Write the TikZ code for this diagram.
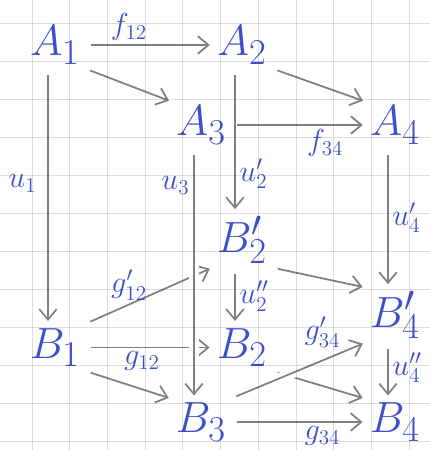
\documentclass[tikz,border=0pt]{standalone}
\usepackage{tikz}
\usetikzlibrary{arrows.meta,positioning}
\definecolor{inkblue}{RGB}{60,80,205}
\definecolor{pencil}{RGB}{128,128,128}
\definecolor{paperline}{RGB}{222,222,222}

\begin{document}
\begin{tikzpicture}[
    obj/.style={inkblue, font=\Huge, inner sep=2pt},
    lbl/.style={inkblue, font=\LARGE, inner sep=2pt},
    arr/.style={pencil, line width=1pt, -{Straight Barb[length=6pt,width=10pt]}, shorten >=2pt, shorten <=4pt},
    front/.style={preaction={draw, white, line width=6pt, -}}]
    \useasboundingbox (0,0) rectangle (8.6,9);
    % the two squares of the cube
    \node[obj] (A1) at (1.1,8.1) {$A_1$};
    \node[obj] (A2) at (4.84,8.1) {$A_2$};
    \node[obj] (A3) at (4.02,6.5) {$A_3$};
    \node[obj] (A4) at (7.9,6.5) {$A_4$};
    \node[obj] (B2p) at (4.84,4.2) {$B'_2$};
    \node[obj] (B4p) at (7.9,2.7) {$B'_4$};
    \node[obj] (B1) at (1.1,2.05) {$B_1$};
    \node[obj] (B2) at (4.84,2.05) {$B_2$};
    \node[obj] (B3) at (4.02,0.56) {$B_3$};
    \node[obj] (B4) at (7.9,0.56) {$B_4$};
    % back edges
    \draw[arr] (A1) -- node[lbl,above,pos=0.35] {$f_{12}$} (A2);
    \draw[arr] (A1.south east) -- (A3.north west);
    \draw[arr] (A2.south east) -- (A4.north west);
    \draw[arr] ([xshift=-4pt]A1.south) -- node[lbl,left=4pt,pos=0.45] {$u_1$} ([xshift=-4pt]B1.north);
    \draw[arr] ([xshift=-4pt]A2.south) -- node[lbl,right,pos=0.73] {$u'_2$} ([xshift=-4pt]B2p.north);
    \draw[arr] ([xshift=-4pt]A4.south) -- node[lbl,right,pos=0.5] {$u'_4$} ([xshift=-4pt]B4p.north);
    \draw[arr] ([xshift=-4pt]B2p.south) -- node[lbl,right] {$u''_2$} ([xshift=-4pt]B2.north);
    \draw[arr] ([xshift=-4pt]B4p.south) -- node[lbl,right,pos=0.45] {$u''_4$} ([xshift=-4pt]B4.north);
    \draw[arr] (B1.north east) -- node[lbl,above,pos=0.35] {$g'_{12}$} (B2p.south west);
    \draw[arr] (B1) -- node[lbl,below,pos=0.45] {$g_{12}$} (B2);
    \draw[arr] (B1.south east) -- (B3.north west);
    \draw[arr] (B2p.south east) -- (B4p.north west);
    \draw[arr] (B2.south east) -- (B4.north west);
    % front edges, drawn over the hidden ones
    \draw[arr,front] (A3) -- node[lbl,below,pos=0.7] {$f_{34}$} (A4);
    \draw[arr,front] ([xshift=-4pt]A3.south) -- node[lbl,left,pos=0.15] {$u_3$} ([xshift=-4pt]B3.north);
    \draw[arr,front] (B3.north east) -- node[lbl,above=5pt,pos=0.68] {$g'_{34}$} (B4p.south west);
    \draw[arr,front] (B3) -- node[lbl,below,pos=0.68] {$g_{34}$} (B4);
    % squared paper, laid over everything
    \begin{scope}[blend mode=multiply]
      \foreach \i in {0,...,10}{
        \draw[paperline] ({0.64+0.754*\i},0) -- ++(0,9);}
      \foreach \j in {0,...,11}{
        \draw[paperline] (0,{8.54-0.76*\j}) -- ++(8.6,0);}
    \end{scope}
\end{tikzpicture}
\end{document}
